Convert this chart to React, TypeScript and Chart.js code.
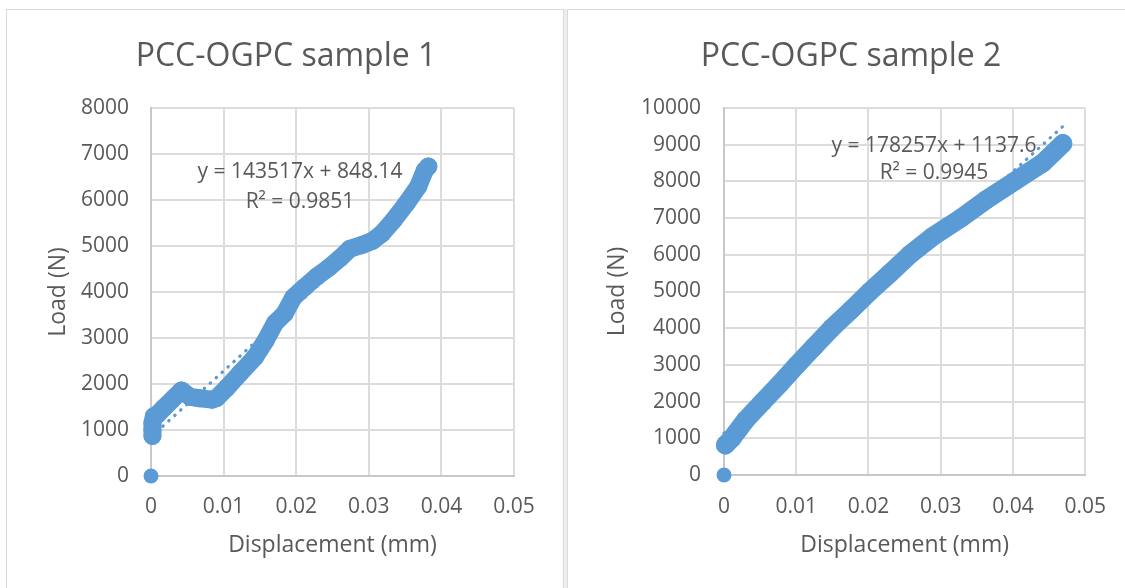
import React, { useEffect, useRef } from "react";
import { Chart, registerables } from "chart.js";

Chart.register(...registerables);

// ---------- data ----------
const xTickValues = [0, 0.01, 0.02, 0.03, 0.04, 0.05];
const xTickLabels = ["0", "0.01", "0.02", "0.03", "0.04", "0.05"];

const s1Title = "PCC-OGPC sample 1";
const s1Disp = [0.0002, 0.0002, 0.0002, 0.0004, 0.0009, 0.0017, 0.0031, 0.0042, 0.0054, 0.0067, 0.0084, 0.009, 0.0104, 0.0123, 0.0143, 0.0158, 0.0171, 0.0184, 0.0196, 0.0212, 0.0228, 0.0245, 0.026, 0.0274, 0.0292, 0.0305, 0.0318, 0.0334, 0.0352, 0.0368, 0.0377, 0.0382];
const s1Load = [870, 1000, 1150, 1300, 1340, 1470, 1690, 1860, 1720, 1690, 1660, 1690, 1910, 2240, 2580, 2950, 3330, 3530, 3880, 4110, 4330, 4530, 4730, 4940, 5030, 5110, 5270, 5560, 5930, 6290, 6640, 6730];
const s1OriginDisp = [0];
const s1OriginLoad = [0];
const s1TrendDisp = [0, 0.0382];
const s1TrendLoad = [848.14, 6330];
const s1Equation = ["y = 143517x + 848.14", "R² = 0.9851"];
const s1YMax = 8000;

const s2Title = "PCC-OGPC sample 2";
const s2Disp = [0.0002, 0.0011, 0.003, 0.0054, 0.0078, 0.0101, 0.0125, 0.0149, 0.0176, 0.0202, 0.023, 0.0257, 0.0289, 0.0328, 0.0363, 0.0402, 0.0441, 0.0469];
const s2Load = [820, 1000, 1500, 2000, 2500, 3000, 3500, 4000, 4500, 5000, 5500, 6000, 6500, 7000, 7500, 8000, 8500, 9030];
const s2OriginDisp = [0];
const s2OriginLoad = [0];
const s2TrendDisp = [0, 0.047];
const s2TrendLoad = [1137.6, 9515];
const s2Equation = ["y = 178257x + 1137.6", "R² = 0.9945"];
const s2YMax = 10000;

const xTitle = "Displacement (mm)";
const yTitle = "Load (N)";

// ---------- style ----------
const FONT = '"Open Sans", "Noto Sans", sans-serif';
const TEXT = "#595959";
const BLUE = "#5b9bd5";
const GRID = "#dcdcdc";

const pts = (xs: number[], ys: number[]) => xs.map((x, i) => ({ x, y: ys[i] }));

const textPlugin = {
  id: "excelText",
  afterDraw(chart: any, _args: any, opts: any) {
    const ctx = chart.ctx;
    ctx.save();
    ctx.fillStyle = TEXT;
    ctx.textAlign = "center";
    ctx.textBaseline = "alphabetic";
    ctx.font = `32px ${FONT}`;
    ctx.fillText(opts.title, opts.titleX, opts.titleY);
    ctx.font = `21px ${FONT}`;
    opts.lines.forEach((l: string, i: number) => {
      ctx.fillText(l, opts.eqX, opts.eqY[i]);
    });
    ctx.restore();
  },
};

type Panel = {
  left: number; top: number; w: number; h: number;
  padRight: number; yAxisW: number; xAxisH: number;
  yTickPad: number; xTickPad: number; yTitlePad: number;
  title: string; titleX: number; titleY: number;
  eq: string[]; eqX: number; eqY: number[];
  disp: number[]; load: number[]; oDisp: number[]; oLoad: number[];
  tDisp: number[]; tLoad: number[]; yMax: number; band: number;
};

function ScatterPanel({ p }: { p: Panel }) {
  const ref = useRef<HTMLCanvasElement>(null);
  useEffect(() => {
    const chart = new Chart(ref.current as HTMLCanvasElement, {
      type: "scatter",
      data: {
        datasets: [
          {
            data: pts(p.tDisp, p.tLoad),
            showLine: true,
            borderColor: BLUE,
            borderWidth: 3.2,
            borderDash: [0.5, 7.5],
            borderCapStyle: "round",
            pointRadius: 0,
            clip: false,
          } as any,
          {
            data: pts(p.disp, p.load),
            showLine: true,
            borderColor: BLUE,
            backgroundColor: BLUE,
            borderWidth: p.band,
            borderCapStyle: "round",
            borderJoinStyle: "round",
            pointRadius: p.band / 2,
            pointBorderWidth: 0,
            pointBackgroundColor: BLUE,
            clip: false,
          } as any,
          {
            data: pts(p.oDisp, p.oLoad),
            pointRadius: 7.5,
            pointBorderWidth: 0,
            pointBackgroundColor: BLUE,
            clip: false,
          } as any,
        ],
      },
      options: {
        responsive: false,
        animation: false,
        devicePixelRatio: 1,
        events: [],
        layout: { padding: { top: 98, right: p.padRight, bottom: 0, left: 0 } },
        plugins: {
          legend: { display: false },
          tooltip: { enabled: false },
          title: { display: false },
          excelText: {
            title: p.title, titleX: p.titleX, titleY: p.titleY,
            lines: p.eq, eqX: p.eqX, eqY: p.eqY,
          },
        } as any,
        scales: {
          x: {
            type: "linear",
            min: 0,
            max: 0.05,
            afterBuildTicks: (s: any) => {
              s.ticks = xTickValues.map((v) => ({ value: v }));
            },
            afterFit: (s: any) => {
              s.height = p.xAxisH;
            },
            grid: { color: GRID, lineWidth: 2, drawTicks: false },
            border: { display: true, color: "#c8c8c8", width: 2 },
            ticks: {
              padding: p.xTickPad,
              autoSkip: false,
              maxRotation: 0,
              color: TEXT,
              font: { family: FONT, size: 21 },
              callback: (_v: any, i: number) => xTickLabels[i],
            },
            title: {
              display: true,
              text: xTitle,
              color: TEXT,
              font: { family: FONT, size: 23 },
              padding: { top: 0, bottom: 29 },
            },
          },
          y: {
            type: "linear",
            min: 0,
            max: p.yMax,
            afterFit: (s: any) => {
              s.width = p.yAxisW;
            },
            grid: { color: GRID, lineWidth: 2, drawTicks: false },
            border: { display: true, color: "#c8c8c8", width: 2 },
            ticks: {
              stepSize: 1000,
              padding: p.yTickPad,
              color: TEXT,
              font: { family: FONT, size: 21 },
              callback: (v: any) => String(v),
            },
            title: {
              display: true,
              text: yTitle,
              color: TEXT,
              font: { family: FONT, size: 23 },
              padding: { top: p.yTitlePad, bottom: 0 },
            },
          },
        },
      } as any,
      plugins: [textPlugin as any],
    });
    return () => chart.destroy();
  }, []);
  return (
    <canvas
      ref={ref}
      width={p.w}
      height={p.h}
      style={{ position: "absolute", left: p.left, top: p.top, width: p.w, height: p.h }}
    />
  );
}

const panel1: Panel = {
  left: 7, top: 10, w: 556, h: 578,
  padRight: 49, yAxisW: 144, xAxisH: 112,
  yTickPad: 22, xTickPad: 18, yTitlePad: 37.5,
  title: s1Title, titleX: 279, titleY: 55.5,
  eq: s1Equation, eqX: 293, eqY: [168, 198],
  disp: s1Disp, load: s1Load, oDisp: s1OriginDisp, oLoad: s1OriginLoad,
  tDisp: s1TrendDisp, tLoad: s1TrendLoad, yMax: s1YMax, band: 18,
};

const panel2: Panel = {
  left: 568, top: 10, w: 557, h: 578,
  padRight: 39, yAxisW: 156, xAxisH: 113,
  yTickPad: 23, xTickPad: 19, yTitlePad: 36,
  title: s2Title, titleX: 283, titleY: 55.5,
  eq: s2Equation, eqX: 366, eqY: [141.5, 169],
  disp: s2Disp, load: s2Load, oDisp: s2OriginDisp, oLoad: s2OriginLoad,
  tDisp: s2TrendDisp, tLoad: s2TrendLoad, yMax: s2YMax, band: 19,
};

export default function App() {
  return (
    <div style={{ position: "absolute", left: 0, top: 0, width: 1125, height: 588, background: "#fff", overflow: "hidden" }}>
      <div style={{ position: "absolute", left: 6, top: 9, width: 558, height: 620, border: "1px solid #d9d9d9", boxSizing: "border-box" }} />
      <div style={{ position: "absolute", left: 564, top: 9, width: 3, height: 620, background: "#eeeeee" }} />
      <div style={{ position: "absolute", left: 567, top: 9, width: 600, height: 620, border: "1px solid #d9d9d9", boxSizing: "border-box" }} />
      <ScatterPanel p={panel1} />
      <ScatterPanel p={panel2} />
    </div>
  );
}
